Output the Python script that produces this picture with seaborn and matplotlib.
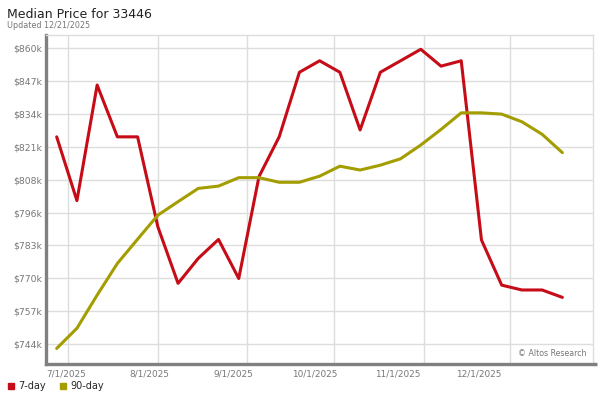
import matplotlib
matplotlib.use("Agg")
import matplotlib.pyplot as plt
import matplotlib.dates as mdates
from matplotlib.lines import Line2D
import seaborn as sns
import pandas as pd
import numpy as np

# weekly points, 6/27/2025 .. 12/19/2025
dates = pd.date_range("2025-06-27", periods=26, freq="7D")

price_7day = [825.2, 800.2, 845.5, 825.2, 825.2, 790.0, 767.8, 777.6, 785.0, 769.7,
              809.6, 825.2, 850.5, 855.0, 850.5, 827.9, 850.5, 855.0, 859.5, 852.9,
              855.0, 784.8, 767.1, 765.2, 765.2, 762.3]
price_90day = [742.3, 750.2, 763.2, 775.6, 785.1, 794.5, 799.8, 805.0, 805.9, 809.2,
               809.2, 807.4, 807.4, 809.8, 813.7, 812.2, 814.1, 816.6, 822.0, 828.1,
               834.6, 834.6, 834.1, 831.1, 826.2, 819.0]

series_names = ["7-day", "90-day"]
palette = {"7-day": "#c60c16", "90-day": "#a39d00"}

month_starts = pd.to_datetime(["2025-07-01", "2025-08-01", "2025-09-01",
                               "2025-10-01", "2025-11-01", "2025-12-01"])
month_labels = ["7/1/2025", "8/1/2025", "9/1/2025", "10/1/2025", "11/1/2025", "12/1/2025"]
y_ticks = np.linspace(744, 860, 10)
y_labels = [f"${v:.0f}k" for v in y_ticks]

df = pd.DataFrame({
    "date": list(dates) * 2,
    "price": price_7day + price_90day,
    "series": ["7-day"] * len(dates) + ["90-day"] * len(dates),
})

sns.set_style("white")
plt.rcParams["font.family"] = ["DejaVu Sans"]

fig = plt.figure(figsize=(6, 4), dpi=100)
ax = fig.add_axes([46 / 600, 36 / 400, 547 / 600, 329 / 400])

sns.lineplot(data=df, x="date", y="price", hue="series", palette=palette,
             linewidth=2.2, legend=False, ax=ax, zorder=3)

ax.set_ylim(736.2, 865.1)
x0 = mdates.date2num(pd.Timestamp("2025-07-01"))
ax.set_xlim(x0 - 7.7, x0 + 181.6)

# gridlines at the month starts, labels drift left as in the original chart
ax.set_xticks(mdates.date2num(month_starts))
ax.set_xticklabels([""] * len(month_starts))
label_pos = x0 - 0.7 + 0.933 * (mdates.date2num(month_starts) - x0)
ax.set_xticks(label_pos, minor=True)
ax.set_xticklabels(month_labels, minor=True, fontsize=6.4, color="#777777")
ax.set_yticks(y_ticks)
ax.set_yticklabels(y_labels, fontsize=6.7, color="#777777")
ax.tick_params(axis="both", which="both", length=0, pad=3)
ax.tick_params(axis="x", which="minor", pad=4)

ax.grid(True, which="major", color="#dddddd", linewidth=1.0)
ax.set_axisbelow(True)
ax.set_xlabel("")
ax.set_ylabel("")

for side in ["top", "right"]:
    ax.spines[side].set_color("#dddddd")
    ax.spines[side].set_linewidth(1.0)
for side in ["left", "bottom"]:
    ax.spines[side].set_color("#808080")
    ax.spines[side].set_linewidth(2.4)
# bottom rule runs a little past the plot frame
ax.plot([1.0, 1.008], [0, 0], transform=ax.transAxes, color="#808080",
        linewidth=2.4, clip_on=False, solid_capstyle="butt")

fig.text(7 / 600, 1 - 14 / 400, "Median Price for 33446", fontsize=9,
         color="#222222", va="center", ha="left")
fig.text(7 / 600, 1 - 25 / 400, "Updated 12/21/2025", fontsize=5.8,
         color="#777777", va="center", ha="left")
fig.text(587 / 600, 1 - 354 / 400, "© Altos Research", fontsize=5.7,
         color="#777777", va="center", ha="right")

handles = [Line2D([], [], marker="s", linestyle="", markersize=4.5,
                  color=palette[n]) for n in series_names]
fig.legend(handles, series_names, loc="center left",
           bbox_to_anchor=(2 / 600, 1 - 386 / 400), ncol=2, frameon=False,
           fontsize=7, handletextpad=0.3, columnspacing=1.2, borderaxespad=0,
           handlelength=1.0)

fig.savefig("out.png", dpi=100)
